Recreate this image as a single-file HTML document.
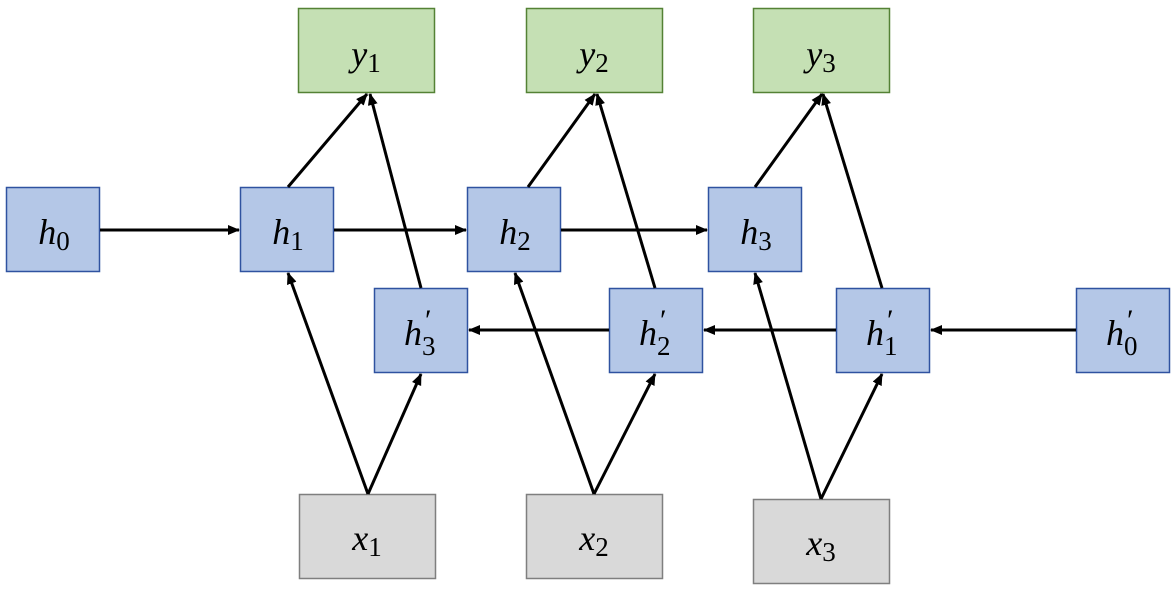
<!DOCTYPE html>
<html><head><meta charset="utf-8"><style>
html,body{margin:0;padding:0;background:#fff;}
svg text{font-family:"Liberation Serif",serif;}
</style></head><body>
<svg width="1175" height="590" viewBox="0 0 1175 590" xmlns="http://www.w3.org/2000/svg">
<defs>
<marker id="a" markerWidth="12" markerHeight="10" refX="11" refY="5" orient="auto" markerUnits="userSpaceOnUse">
<path d="M0,0 L12,5 L0,10 Z" fill="#000"/></marker>
</defs>
<g fill="#c5e0b4" stroke="#548235" stroke-width="1.5">
<rect x="298.5" y="8.5" width="136" height="84"/>
<rect x="526.5" y="8.5" width="136" height="84"/>
<rect x="753.5" y="8.5" width="136" height="84"/>
</g>
<g fill="#b4c7e7" stroke="#2f52a0" stroke-width="1.5">
<rect x="6.5" y="187.5" width="93" height="84"/>
<rect x="240.5" y="187.5" width="93" height="84"/>
<rect x="467.5" y="187.5" width="93" height="84"/>
<rect x="708.5" y="187.5" width="93" height="84"/>
<rect x="374.5" y="288.5" width="93" height="84"/>
<rect x="609.5" y="288.5" width="93" height="84"/>
<rect x="836.5" y="288.5" width="93" height="84"/>
<rect x="1076.5" y="288.5" width="93" height="84"/>
</g>
<g fill="#d9d9d9" stroke="#7f7f7f" stroke-width="1.5">
<rect x="299.5" y="494.5" width="136" height="84"/>
<rect x="526.5" y="494.5" width="136" height="84"/>
<rect x="753.5" y="499.5" width="136" height="84"/>
</g>
<g stroke="#000" stroke-width="3" marker-end="url(#a)">
<line x1="100" y1="230" x2="239" y2="230"/>
<line x1="334" y1="230" x2="466" y2="230"/>
<line x1="561" y1="230" x2="707" y2="230"/>
<line x1="1076" y1="330" x2="931" y2="330"/>
<line x1="836" y1="330" x2="704" y2="330"/>
<line x1="609" y1="330" x2="469" y2="330"/>
<line x1="288" y1="187" x2="367" y2="94"/>
<line x1="421" y1="288" x2="370" y2="94"/>
<line x1="528" y1="187" x2="595" y2="94"/>
<line x1="655" y1="288" x2="597" y2="94"/>
<line x1="755" y1="187" x2="822" y2="94"/>
<line x1="882" y1="288" x2="823" y2="94"/>
<line x1="368" y1="494" x2="288" y2="273"/>
<line x1="368" y1="494" x2="421" y2="374"/>
<line x1="594" y1="494" x2="515" y2="273"/>
<line x1="594" y1="494" x2="655" y2="374"/>
<line x1="821" y1="499" x2="755" y2="273"/>
<line x1="821" y1="499" x2="882" y2="374"/>
</g>
<g font-size="36" text-anchor="middle">
<text x="366" y="66"><tspan font-style="italic">y</tspan><tspan font-size="27" dy="6">1</tspan></text>
<text x="594" y="66"><tspan font-style="italic">y</tspan><tspan font-size="27" dy="6">2</tspan></text>
<text x="821" y="66"><tspan font-style="italic">y</tspan><tspan font-size="27" dy="6">3</tspan></text>
<text x="54" y="244"><tspan font-style="italic">h</tspan><tspan font-size="27" dy="6">0</tspan></text>
<text x="288" y="244"><tspan font-style="italic">h</tspan><tspan font-size="27" dy="6">1</tspan></text>
<text x="515" y="244"><tspan font-style="italic">h</tspan><tspan font-size="27" dy="6">2</tspan></text>
<text x="756" y="244"><tspan font-style="italic">h</tspan><tspan font-size="27" dy="6">3</tspan></text>
</g>
<g font-size="36">
<text x="404" y="345" font-style="italic">h</text><text x="425" y="330" font-size="30">′</text><text x="422" y="355" font-size="27">3</text>
<text x="639" y="345" font-style="italic">h</text><text x="660" y="330" font-size="30">′</text><text x="657" y="355" font-size="27">2</text>
<text x="866" y="345" font-style="italic">h</text><text x="887" y="330" font-size="30">′</text><text x="884" y="355" font-size="27">1</text>
<text x="1106" y="345" font-style="italic">h</text><text x="1127" y="330" font-size="30">′</text><text x="1124" y="355" font-size="27">0</text>
</g>
<g font-size="36" text-anchor="middle">
<text x="367" y="550"><tspan font-style="italic">x</tspan><tspan font-size="27" dy="6">1</tspan></text>
<text x="594" y="550"><tspan font-style="italic">x</tspan><tspan font-size="27" dy="6">2</tspan></text>
<text x="821" y="555"><tspan font-style="italic">x</tspan><tspan font-size="27" dy="6">3</tspan></text>
</g>
</svg>
</body></html>
